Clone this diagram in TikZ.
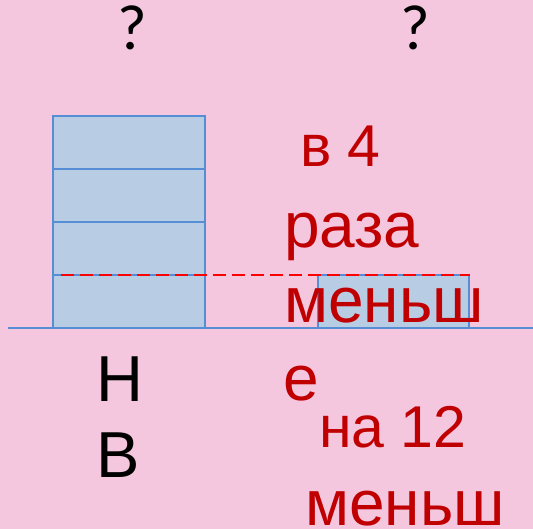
\documentclass[tikz,border=0pt]{standalone}
\usepackage{fontspec}
\setmainfont{Liberation Sans}
\newfontfamily\qfont{Carlito}
\definecolor{bgpink}{RGB}{244,199,223}
\definecolor{boxfill}{RGB}{184,204,228}
\definecolor{boxline}{RGB}{85,142,213}
\definecolor{redtext}{RGB}{192,0,0}
\definecolor{dashred}{RGB}{255,0,0}
\tikzset{
  seg/.style={draw=boxline, fill=boxfill, line width=1.5pt},
  redlbl/.style={text=redtext, anchor=base west, inner sep=0pt, font=\fontsize{64}{64}\selectfont},
  redsmall/.style={text=redtext, anchor=base west, inner sep=0pt, font=\fontsize{59}{59}\selectfont},
  blklbl/.style={text=black, anchor=base west, inner sep=0pt, font=\fontsize{65}{65}\selectfont},
  qlbl/.style={text=black, anchor=base, inner sep=0pt, font=\qfont\fontsize{64}{64}\selectfont}
}
\begin{document}
\begin{tikzpicture}[x=1pt,y=-1pt]
\fill[bgpink] (0,0) rectangle (533,529);
\useasboundingbox (0,0) rectangle (533,529);
% baseline
\coordinate (gl) at (8,328);
\coordinate (gr) at (533,328);
\draw[boxline, line width=1.5pt] (gl) -- (gr);
% left tall box
\path[seg] (53,116) rectangle (205,169);
\path[seg] (53,169) rectangle (205,222);
\path[seg] (53,222) rectangle (205,275);
\path[seg] (53,275) rectangle (205,328);
% small box
\path[seg] (318,275) rectangle (469,328);
% dashed line
\coordinate (da) at (61,275);
\coordinate (db) at (470,275);
\draw[dashred, line width=1.5pt, dash pattern=on 13pt off 6pt] (da) -- (db);
% question marks
\node[qlbl] (q1) at (132,50) {?};
\node[qlbl] (q2) at (415,50) {?};
% black labels
\node[blklbl] (n) at (96,401) {Н};
\node[blklbl] (b) at (96,477) {В};
% red labels
\node[redsmall] (r1) at (300,167) {в 4};
\node[redlbl] (r2) at (284,248) {раза};
\node[redlbl] (r3) at (284,323) {меньш};
\node[redlbl] (r4) at (283,400) {е};
\node[redsmall] (r5) at (319,447) {на 12};
\node[redlbl] (r6) at (305,525) {меньш};
\end{tikzpicture}
\end{document}
